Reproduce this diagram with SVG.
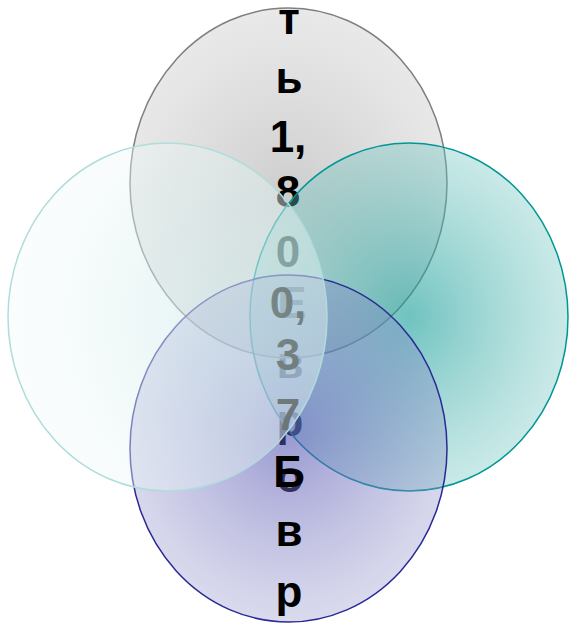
<svg xmlns="http://www.w3.org/2000/svg" width="570" height="623" viewBox="0 0 570 623">
<defs>
<radialGradient id="gTop" cx="50%" cy="55%" r="55%">
<stop offset="0" stop-color="#9a9a9a" stop-opacity="0.5"/>
<stop offset="1" stop-color="#c0c0c0" stop-opacity="0.35"/>
</radialGradient>
<radialGradient id="gRight" cx="50%" cy="50%" r="55%">
<stop offset="0" stop-color="#109a96" stop-opacity="0.6"/>
<stop offset="1" stop-color="#79c9c3" stop-opacity="0.35"/>
</radialGradient>
<radialGradient id="gLeft" cx="75%" cy="50%" r="75%">
<stop offset="0" stop-color="#cce8e8" stop-opacity="0.6"/>
<stop offset="1" stop-color="#f4fafa" stop-opacity="0.35"/>
</radialGradient>
<radialGradient id="gBottom" cx="50%" cy="45%" r="60%">
<stop offset="0" stop-color="#4e4eb0" stop-opacity="0.58"/>
<stop offset="1" stop-color="#9494cb" stop-opacity="0.3"/>
</radialGradient>
</defs>
<style>
text{font-family:"Liberation Sans",Arial,sans-serif;font-weight:bold;font-size:44px;text-anchor:middle;fill:#000}
</style>
<g id="text-euro">
<text x="292" y="318">Е</text>
<text x="290" y="378">в</text>
<text x="290" y="436">р</text>
<text x="290" y="492">о</text>
</g>
<g id="top">
<ellipse cx="288.5" cy="183" rx="158.5" ry="175" fill="url(#gTop)" stroke="#7f7f7f" stroke-width="1.5"/>
</g>
<g id="text-top">
<text x="289" y="34">т</text>
<text x="289" y="93">ь</text>
<text x="288" y="152">1,</text>
<text x="288" y="207">8</text>
<text x="288" y="267">0</text>
</g>
<g id="right">
<ellipse cx="409" cy="317" rx="159" ry="174" fill="url(#gRight)" stroke="#009696" stroke-width="1.5"/>
</g>
<g id="bottom">
<ellipse cx="288.5" cy="448.5" rx="158.5" ry="173.5" fill="url(#gBottom)" stroke="#2a2a96" stroke-width="1.5"/>
</g>
<g id="text-mid">
<text x="288" y="318">0,</text>
<text x="288" y="370">3</text>
<text x="288" y="430">7</text>
</g>
<g id="left">
<ellipse cx="167.5" cy="317" rx="159.5" ry="174" fill="url(#gLeft)" stroke="#b0dcdc" stroke-width="1.5"/>
</g>
<g id="text-bottom">
<text x="289" y="487">Б</text>
<text x="289" y="546">в</text>
<text x="289" y="607">р</text>
</g>
<g id="connectors"/>
</svg>
